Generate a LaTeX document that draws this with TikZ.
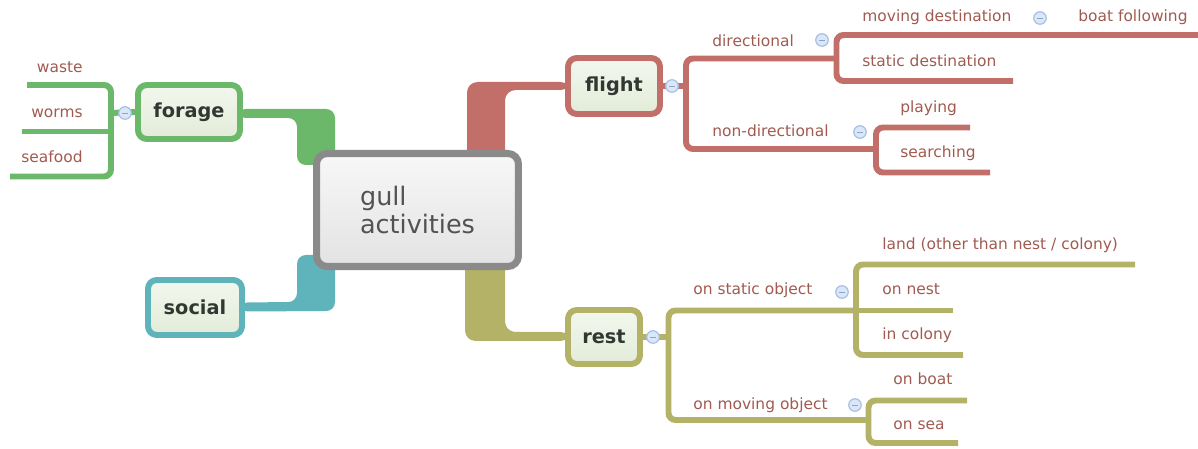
\documentclass[tikz,border=0pt]{standalone}
\usepackage{fontspec}
\setmainfont{DejaVu Sans}
\usetikzlibrary{calc,backgrounds}
\definecolor{cgreen}{RGB}{107,184,107}
\definecolor{cteal}{RGB}{95,179,187}
\definecolor{cred}{RGB}{194,111,106}
\definecolor{colive}{RGB}{180,178,102}
\definecolor{cgrey}{RGB}{138,138,138}
\definecolor{labeltxt}{RGB}{160,90,80}
\definecolor{nodetxt}{RGB}{50,55,50}
\definecolor{filltop}{RGB}{243,247,238}
\definecolor{fillbot}{RGB}{226,236,216}
\definecolor{knobfill}{RGB}{218,231,248}
\definecolor{knobline}{RGB}{168,192,228}

\begin{document}
\begin{tikzpicture}[x=0.02cm, y=-0.02cm,
  topic/.style={rounded corners=5pt, line width=3.4pt, minimum height=1.08cm, inner sep=0pt,
    top color=filltop, bottom color=fillbot,
    text=nodetxt, font=\fontsize{11}{13}\selectfont\bfseries},
  leaf/.style={inner sep=0pt, text=labeltxt, font=\fontsize{8.8}{10}\selectfont},
  branch/.style={line width=3.4pt, rounded corners=4pt},
  knob/.style={circle, draw=knobline, fill=knobfill, line width=0.7pt, minimum size=0.25cm, inner sep=0pt,
    path picture={\draw[knobline!85!black, line width=0.5pt] ([xshift=-1.7pt]path picture bounding box.center) -- ([xshift=1.7pt]path picture bounding box.center);}}]
\useasboundingbox (0,0) rectangle (1198,449);

% central topic
\node[draw=cgrey, line width=4pt, rounded corners=6pt, minimum width=4.04cm, minimum height=2.26cm,
  top color=white!97!black, bottom color=white!89!black, align=left, text=black!68,
  font=\fontsize{14.5}{15.5}\selectfont] (gull) at (417.5,210) {gull\\activities};

% main topics
\node[topic, draw=cgreen, minimum width=2.04cm] (forage) at (189,112) {forage};
\node[topic, draw=cteal, minimum width=1.88cm, minimum height=1.1cm] (social) at (195,307.5) {social};
\node[topic, draw=cred, minimum width=1.84cm, minimum height=1.12cm] (flight) at (614,86) {flight};
\node[topic, draw=colive, minimum width=1.44cm] (rest) at (604,337) {rest};

% thick connectors to the centre
\begin{scope}[on background layer]
\fill[cgreen, rounded corners=5pt] ($(forage.east)+(-6,-3)$) -- (335,109) -- (335,165) -- (297,165) -- (297,118) -- ($(forage.east)+(-6,6)$) -- cycle;
\fill[cteal, rounded corners=5pt] ($(social.east)+(-6,-5)$) -- (297,302) -- (297,255) -- (335,255) -- (335,311) -- ($(social.east)+(-6,4)$) -- cycle;
\fill[cred, rounded corners=6pt] ($(flight.west)+(6,-4)$) -- (467,82) -- (467,165) -- (505,165) -- (505,90) -- ($(flight.west)+(6,4)$) -- cycle;
\fill[colive, rounded corners=6pt] ($(rest.west)+(6,-5)$) -- (505,332) -- (505,255) -- (465,255) -- (465,341) -- ($(rest.west)+(6,4)$) -- cycle;
\end{scope}

% forage subtopics
\coordinate (fbar) at (111,113);
\draw[branch, cgreen] (forage.west) -- (fbar);
\draw[branch, cgreen] (27,85) -- (111,85) -- (fbar) -- (111,176.5) -- (10,176.5);
\draw[branch, cgreen] (22,131.5) -- (111,131.5);
\node[leaf, anchor=base east] (waste) at (83,73) {waste};
\node[leaf, anchor=base east] (worms) at (83,118) {worms};
\node[leaf, anchor=base east] (seafood) at (83,163) {seafood};
\node[knob] (kforage) at (125,113) {};

% flight subtopics
\coordinate (flbar) at (686,86);
\draw[branch, cred] (flight.east) -- (flbar);
\draw[branch, cred] (836.5,58.5) -- (686,58.5) -- (flbar) -- (686,149) -- (876,149);
\draw[branch, cred] (1198,35) -- (836.5,35) -- (836.5,81) -- (1013,81);
\draw[branch, cred] (970,127.5) -- (876,127.5) -- (876,172.5) -- (990,172.5);
\node[leaf, anchor=base west] (dir) at (712,47) {directional};
\node[leaf, anchor=base west] (nondir) at (712,137) {non-directional};
\node[leaf, anchor=base west] (movdest) at (862,22) {moving destination};
\node[leaf, anchor=base west] (statdest) at (862,67) {static destination};
\node[leaf, anchor=base west] (boat) at (1078,22) {boat following};
\node[leaf, anchor=base west] (play) at (900,113) {playing};
\node[leaf, anchor=base west] (search) at (900,158) {searching};
\node[knob] (kflight) at (672,86) {};
\node[knob] (kdir) at (822,40) {};
\node[knob] (kmovdest) at (1040,18) {};
\node[knob] (knondir) at (860,132) {};

% rest subtopics
\coordinate (rbar) at (668.5,337);
\draw[branch, colive] (rest.east) -- (rbar);
\draw[branch, colive] (856,310.5) -- (668.5,310.5) -- (rbar) -- (668.5,420) -- (868.5,420);
\draw[branch, colive] (1135,264.5) -- (856,264.5) -- (856,355) -- (963,355);
\draw[branch, colive] (856,310.5) -- (953,310.5);
\draw[branch, colive] (967,400.5) -- (868.5,400.5) -- (868.5,443) -- (958,443);
\node[leaf, anchor=base west] (statobj) at (693,295) {on static object};
\node[leaf, anchor=base west] (movobj) at (693,410) {on moving object};
\node[leaf, anchor=base west] (land) at (882,250) {land (other than nest / colony)};
\node[leaf, anchor=base west] (nest) at (882,295) {on nest};
\node[leaf, anchor=base west] (colony) at (882,340) {in colony};
\node[leaf, anchor=base west] (onboat) at (893,385) {on boat};
\node[leaf, anchor=base west] (sea) at (893,430) {on sea};
\node[knob] (krest) at (653,337) {};
\node[knob] (kstatobj) at (842,292) {};
\node[knob] (kmovobj) at (855,405) {};
\end{tikzpicture}
\end{document}
